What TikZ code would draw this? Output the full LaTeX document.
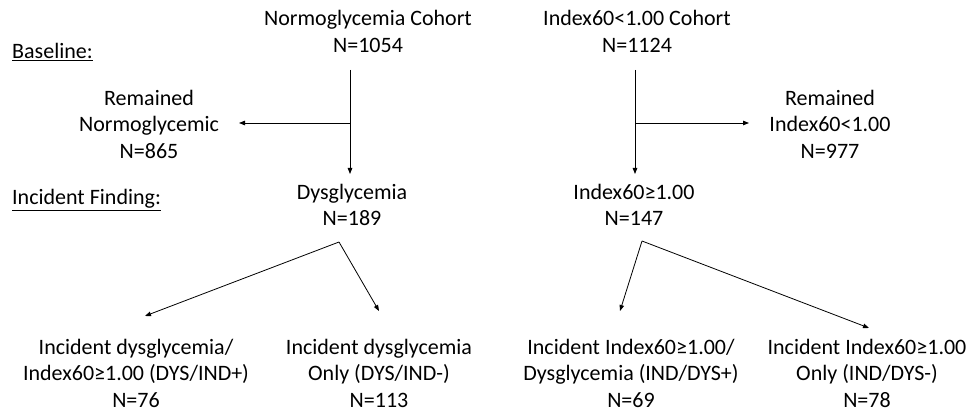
\documentclass[tikz,border=0pt]{standalone}
\usepackage{fontspec}
\setmainfont{Carlito}
\usetikzlibrary{arrows.meta}
\tikzset{
  txt/.style={align=center, inner sep=0pt, font=\fontsize{22}{26.5}\selectfont},
  lbl/.style={anchor=west, inner sep=0pt, font=\fontsize{22}{26.5}\selectfont},
  arr/.style={line width=0.8pt, -{Triangle[length=6pt,width=4.5pt]}}
}
\begin{document}
\begin{tikzpicture}[x=1pt,y=-1pt]
\useasboundingbox[fill=white] (0,0) rectangle (973,414);
% labels
\node[lbl] (base) at (12,52) {\underline{Baseline:}};
\node[lbl] (incf) at (12,200) {\underline{Incident Finding:}};
% left tree
\node[txt] (normo) at (368,31.5) {Normoglycemia Cohort\\N=1054};
\node[txt] (remN) at (149,124) {Remained\\Normoglycemic\\N=865};
\node[txt] (dys) at (352,205) {Dysglycemia\\N=189};
\node[txt] (dysInd) at (136,373) {Incident dysglycemia/\\Index60≥1.00 (DYS/IND+)\\N=76};
\node[txt] (dysOnly) at (379,373) {Incident dysglycemia\\Only (DYS/IND-)\\N=113};
% right tree
\node[txt] (idx) at (637,31.5) {Index60<1.00 Cohort\\N=1124};
\node[txt] (remI) at (830,124) {Remained\\Index60<1.00\\N=977};
\node[txt] (ind) at (634,205) {Index60≥1.00\\N=147};
\node[txt] (indDys) at (631,373) {Incident Index60≥1.00/\\Dysglycemia (IND/DYS+)\\N=69};
\node[txt] (indOnly) at (867,373) {Incident Index60≥1.00\\Only (IND/DYS-)\\N=78};
% connector points
\coordinate (nTop) at (350,70);
\coordinate (nBot) at (350,174);
\coordinate (nMid) at (350,123);
\coordinate (nLeft) at (239,123);
\coordinate (iTop) at (635,70);
\coordinate (iBot) at (635,174);
\coordinate (iMid) at (635,123);
\coordinate (iRight) at (749,123);
\coordinate (dSplit) at (339,242);
\coordinate (dL) at (145,316);
\coordinate (dR) at (379,311);
\coordinate (xSplit) at (642,241);
\coordinate (xL) at (620,311);
\coordinate (xR) at (869,328);
% connectors
\draw[arr] (nTop) -- (nBot);
\draw[arr] (nMid) -- (nLeft);
\draw[arr] (iTop) -- (iBot);
\draw[arr] (iMid) -- (iRight);
\draw[arr] (dSplit) -- (dL);
\draw[arr] (dSplit) -- (dR);
\draw[arr] (xSplit) -- (xL);
\draw[arr] (xSplit) -- (xR);
\end{tikzpicture}
\end{document}
